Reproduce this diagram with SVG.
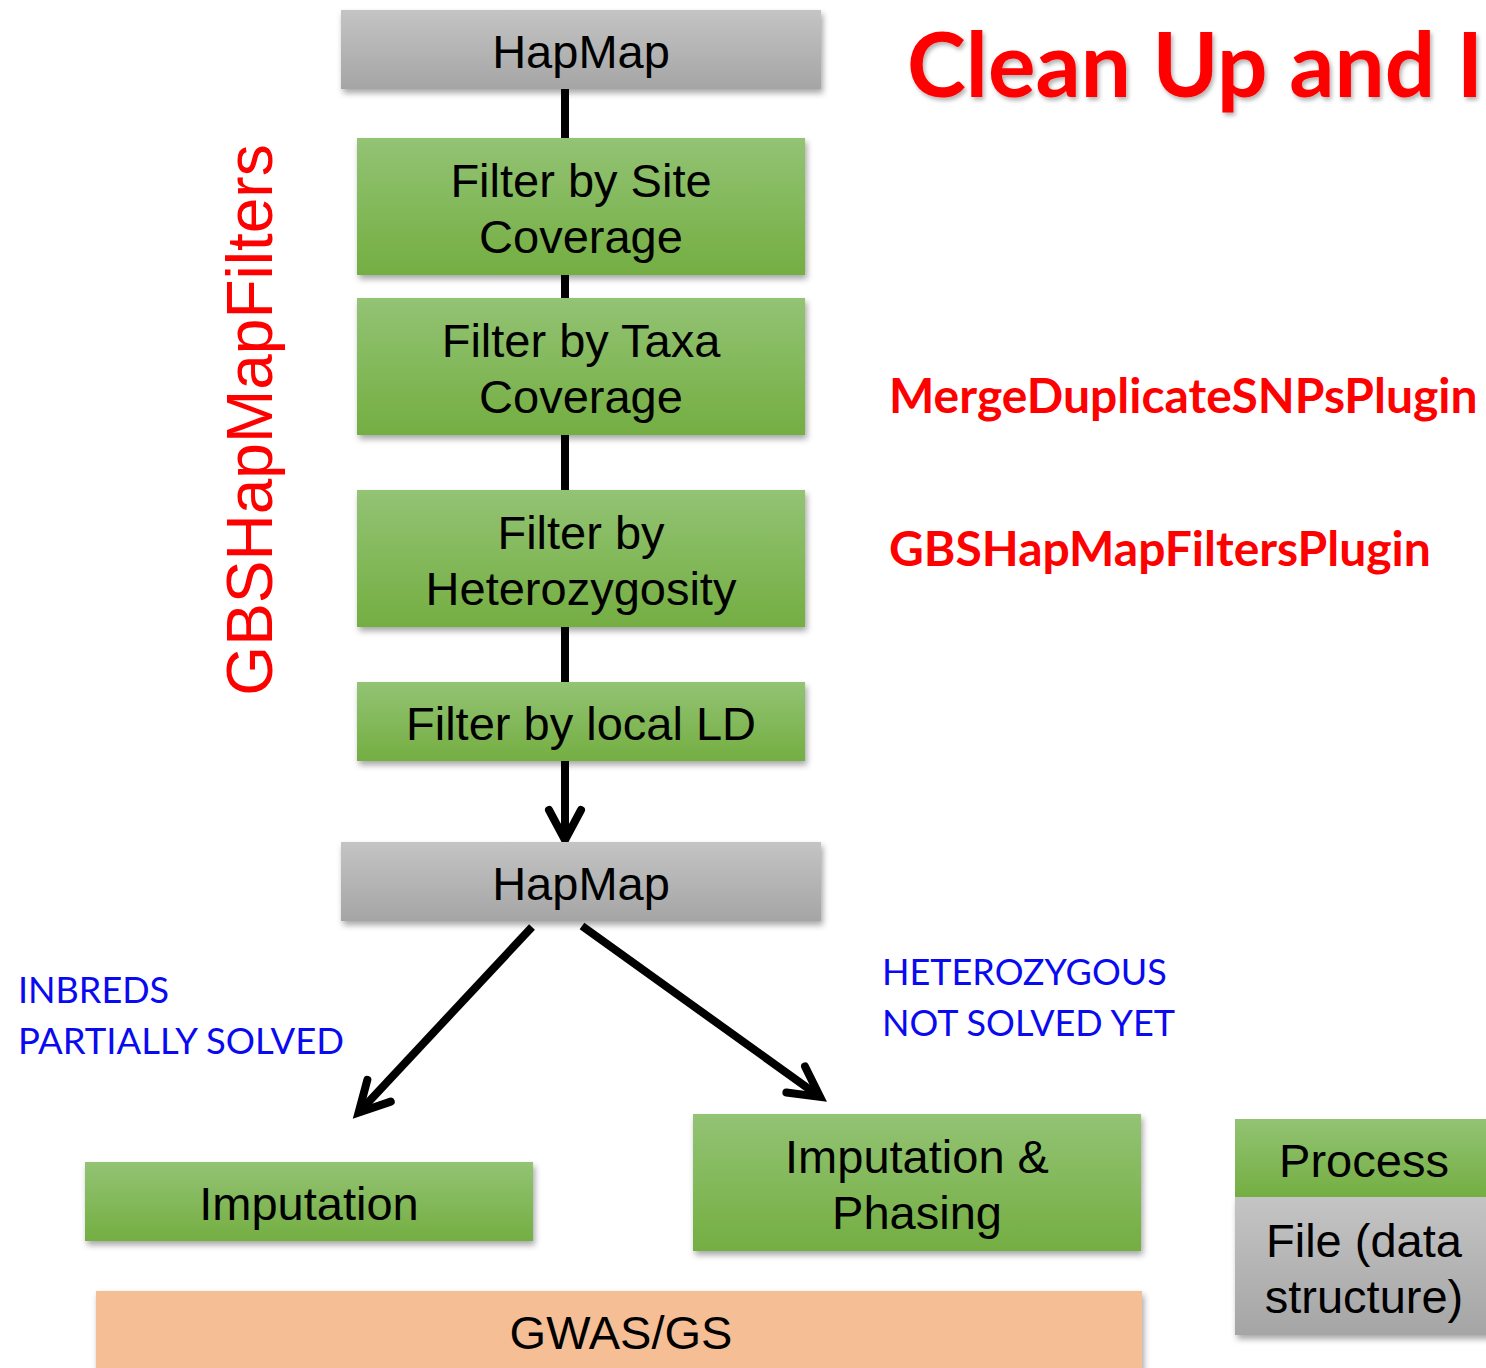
<svg xmlns="http://www.w3.org/2000/svg" width="1486" height="1368" viewBox="0 0 1486 1368">
  <style>
    .lbl { font-family: "Liberation Sans", Arial, sans-serif; font-size: 47px; fill: #000; text-anchor: middle; }
    .red { font-family: "Lato", "Open Sans", sans-serif; font-weight: bold; fill: #ff0000; }
    .blue { font-family: "Lato", "Open Sans", sans-serif; font-size: 36px; fill: #0a0af0; }
    .conn { stroke: #000; stroke-width: 8; fill: none; }
  </style>
  <defs>
    <linearGradient id="gGreen" x1="0" y1="0" x2="0" y2="1">
      <stop offset="0" stop-color="#93c374"/>
      <stop offset="1" stop-color="#74ae42"/>
    </linearGradient>
    <linearGradient id="gGray" x1="0" y1="0" x2="0" y2="1">
      <stop offset="0" stop-color="#c4c4c4"/>
      <stop offset="1" stop-color="#a5a5a5"/>
    </linearGradient>
    <filter id="shadow" x="-5%" y="-20%" width="110%" height="150%">
      <feDropShadow dx="2" dy="4" stdDeviation="3" flood-color="#000" flood-opacity="0.35"/>
    </filter>
    <filter id="tshadow" x="-5%" y="-20%" width="110%" height="150%">
      <feDropShadow dx="2" dy="3" stdDeviation="2" flood-color="#000" flood-opacity="0.3"/>
    </filter>
    <marker id="chev" markerUnits="userSpaceOnUse" markerWidth="60" markerHeight="60" refX="-5" refY="0" orient="auto" overflow="visible" viewBox="-40 -30 60 60">
      <path d="M -30,-16 L 0,0 L -30,16" fill="none" stroke="#000" stroke-width="8" stroke-linecap="round" stroke-linejoin="miter"/>
    </marker>
  </defs>

  <!-- connectors -->
  <g id="connectors">
    <line class="conn" x1="565" y1="89" x2="565" y2="682"/>
    <line class="conn" x1="565" y1="761" x2="565" y2="835" marker-end="url(#chev)"/>
    <line class="conn" x1="532" y1="927" x2="362" y2="1109" marker-end="url(#chev)"/>
    <line class="conn" x1="582" y1="926" x2="816" y2="1094" marker-end="url(#chev)"/>
  </g>

  <!-- title and annotations -->
  <text class="red" x="907" y="97" font-size="89" filter="url(#tshadow)">Clean Up and I</text>
  <text class="red" x="889" y="413" font-size="48">MergeDuplicateSNPsPlugin</text>
  <text class="red" x="889" y="566" font-size="48">GBSHapMapFiltersPlugin</text>
  <text x="0" y="0" transform="translate(272 420) rotate(-90)" font-family="Liberation Sans, Arial, sans-serif" font-size="64" fill="#ff0000" text-anchor="middle">GBSHapMapFilters</text>
  <text class="blue" x="18" y="1003">INBREDS</text>
  <text class="blue" x="18" y="1054" textLength="326" lengthAdjust="spacingAndGlyphs">PARTIALLY SOLVED</text>
  <text class="blue" x="882" y="985">HETEROZYGOUS</text>
  <text class="blue" x="882" y="1036">NOT SOLVED YET</text>

  <!-- nodes -->
  <g id="hapmap-in">
    <rect x="341" y="10" width="480" height="79" fill="url(#gGray)" filter="url(#shadow)"/>
    <text class="lbl" x="581" y="68">HapMap</text>
  </g>
  <g id="filter-site">
    <rect x="357" y="138" width="448" height="137" fill="url(#gGreen)" filter="url(#shadow)"/>
    <text class="lbl" x="581" y="197">Filter by Site</text>
    <text class="lbl" x="581" y="253">Coverage</text>
  </g>
  <g id="filter-taxa">
    <rect x="357" y="298" width="448" height="137" fill="url(#gGreen)" filter="url(#shadow)"/>
    <text class="lbl" x="581" y="357">Filter by Taxa</text>
    <text class="lbl" x="581" y="413">Coverage</text>
  </g>
  <g id="filter-het">
    <rect x="357" y="490" width="448" height="137" fill="url(#gGreen)" filter="url(#shadow)"/>
    <text class="lbl" x="581" y="549">Filter by</text>
    <text class="lbl" x="581" y="605">Heterozygosity</text>
  </g>
  <g id="filter-ld">
    <rect x="357" y="682" width="448" height="79" fill="url(#gGreen)" filter="url(#shadow)"/>
    <text class="lbl" x="581" y="740">Filter by local LD</text>
  </g>
  <g id="hapmap-out">
    <rect x="341" y="842" width="480" height="79" fill="url(#gGray)" filter="url(#shadow)"/>
    <text class="lbl" x="581" y="900">HapMap</text>
  </g>
  <g id="imputation">
    <rect x="85" y="1162" width="448" height="79" fill="url(#gGreen)" filter="url(#shadow)"/>
    <text class="lbl" x="309" y="1220">Imputation</text>
  </g>
  <g id="imputation-phasing">
    <rect x="693" y="1114" width="448" height="137" fill="url(#gGreen)" filter="url(#shadow)"/>
    <text class="lbl" x="917" y="1173">Imputation &amp;</text>
    <text class="lbl" x="917" y="1229">Phasing</text>
  </g>
  <g id="gwas">
    <rect x="96" y="1291" width="1046" height="90" fill="#f6be95" filter="url(#shadow)"/>
    <text class="lbl" x="621" y="1349">GWAS/GS</text>
  </g>

  <!-- legend -->
  <g id="legend-file">
    <rect x="1235" y="1197" width="260" height="138" fill="url(#gGray)" filter="url(#shadow)"/>
    <text class="lbl" x="1364" y="1257">File (data</text>
    <text class="lbl" x="1364" y="1313">structure)</text>
  </g>
  <g id="legend-process">
    <rect x="1235" y="1119" width="260" height="78" fill="url(#gGreen)"/>
    <text class="lbl" x="1364" y="1177">Process</text>
  </g>
</svg>
